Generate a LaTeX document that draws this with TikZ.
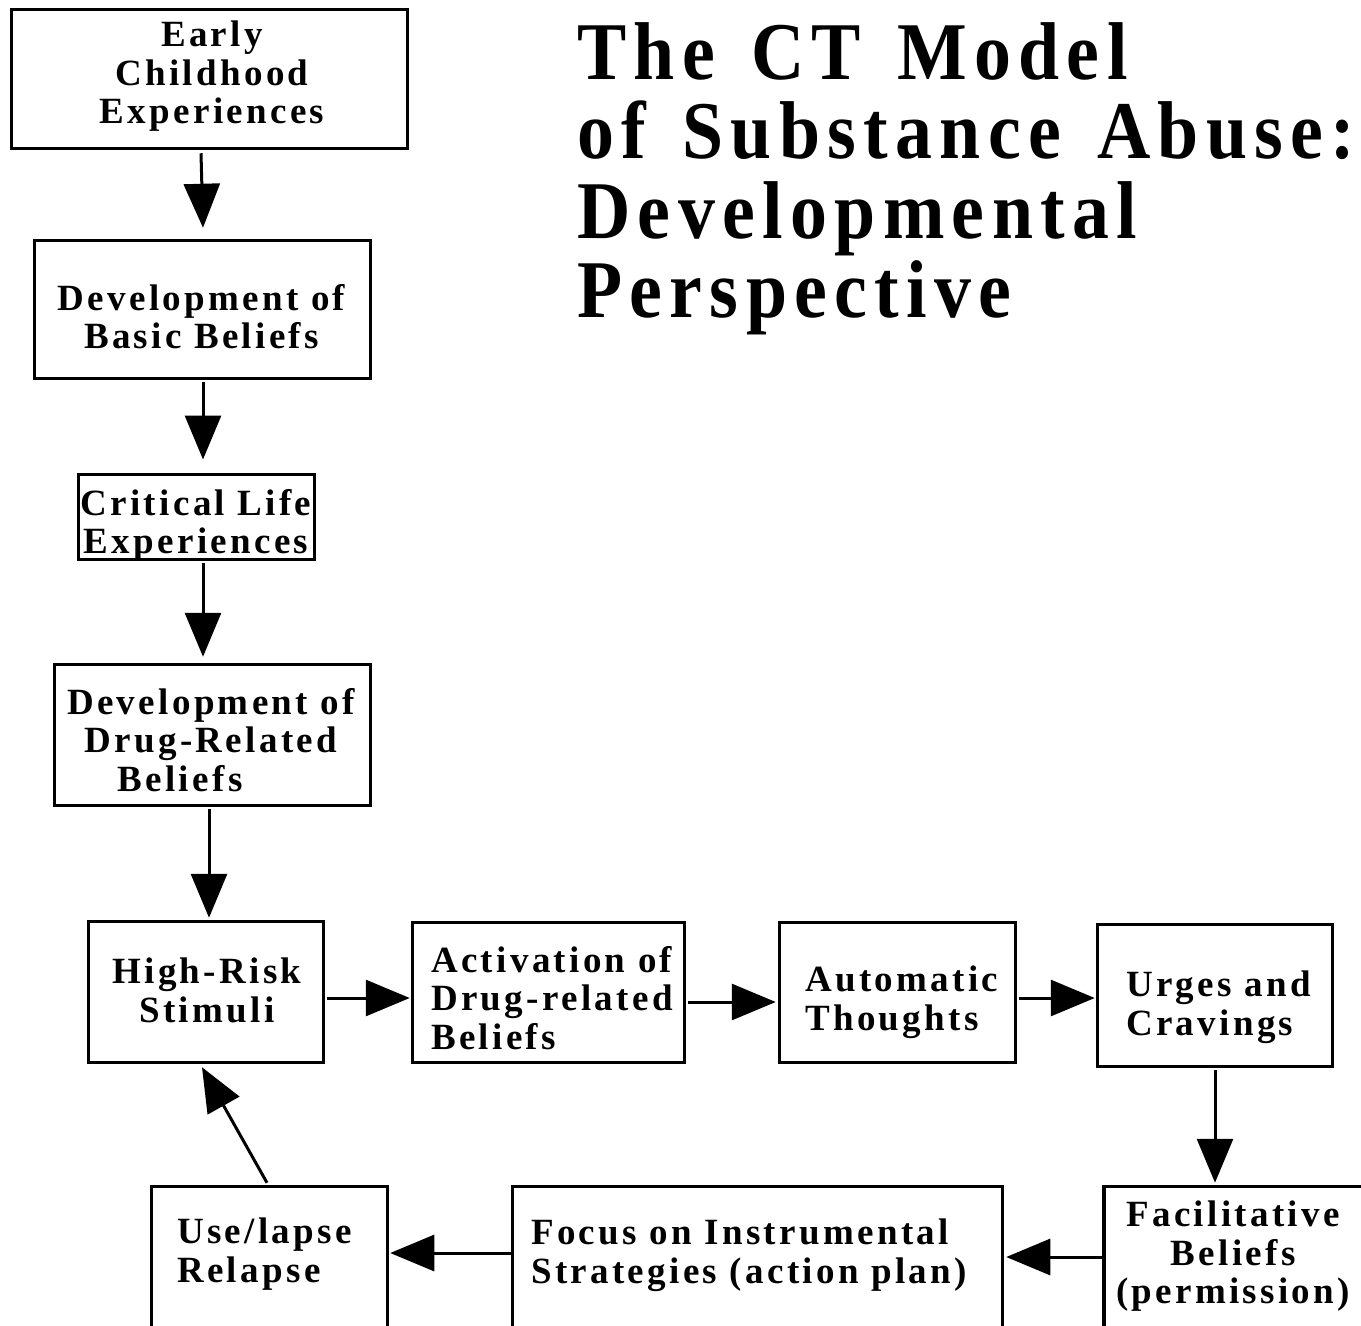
\documentclass[tikz,border=0pt]{standalone}
\usepackage{fontspec}
\usetikzlibrary{arrows.meta,calc}
\newfontfamily\boxfont{Liberation Serif}[LetterSpace=9]
\newfontfamily\titlefont{Liberation Serif}[LetterSpace=9,FakeStretch=0.9,WordSpace=1.4]
\tikzset{
  box/.style={draw=black,line width=3.5pt,fill=none,inner sep=0pt},
  boxtext/.style={inner sep=0pt,font=\boxfont\bfseries\fontsize{37}{38.5}\selectfont},
  arr/.style={line width=3pt,-{Triangle[length=44pt,width=36pt]}}
}
\begin{document}
\begin{tikzpicture}[x=1pt,y=-1pt]
\useasboundingbox (0,0) rectangle (1361,1326);
\fill[white] (0,0) rectangle (1361,1326);

% title
\node[anchor=north west,inner sep=0pt,align=left,
      font=\titlefont\bfseries\fontsize{82}{79.5}\selectfont] (title) at (577,22)
  {The CT Model\\of Substance Abuse:\\Developmental\\Perspective};

% boxes of the developmental chain
\node[box,minimum width=396pt,minimum height=139pt] (b1) at (209.5,79) {};
\node[box,minimum width=336pt,minimum height=138pt] (b2) at (202.5,309.5) {};
\node[box,line width=3pt,minimum width=236pt,minimum height=85pt] (b3) at (196,516.5) {};
\node[box,minimum width=316pt,minimum height=141pt] (b4) at (212.5,735) {};
\node[box,minimum width=235pt,minimum height=141pt] (b5) at (206,992) {};
\node[box,minimum width=272pt,minimum height=140pt] (b6) at (548.5,992.5) {};
\node[box,minimum width=236pt,minimum height=140pt] (b7) at (897.5,992.5) {};
\node[box,minimum width=235pt,minimum height=142pt] (b8) at (1215,995.5) {};
\node[box,minimum width=296pt,minimum height=173pt] (b9) at (1252,1273) {};
\node[box,minimum width=490pt,minimum height=173pt] (b10) at (757.5,1273) {};
\node[box,minimum width=236pt,minimum height=173pt] (b11) at (269.5,1273) {};

% box texts
\node[boxtext,anchor=north,align=center] (t1) at (212,21) {Early\\Childhood\\Experiences};
\node[boxtext,anchor=north,align=center] (t2) at (201.5,284) {Development of\\Basic Beliefs};
\node[boxtext,anchor=north,align=center] (t3) at (196,489) {Critical Life\\Experiences};
\node[boxtext,anchor=north,align=center] (t4) at (211,688) {Development of\\Drug-Related\\Beliefs\hspace*{62pt}};
\node[boxtext,anchor=north,align=center] (t5) at (207,958) {High-Risk\\Stimuli};
\node[boxtext,anchor=north west,align=left] (t6) at (431,946) {Activation of\\Drug-related\\Beliefs};
\node[boxtext,anchor=north west,align=left] (t7) at (805,966) {Automatic\\Thoughts};
\node[boxtext,anchor=north west,align=left] (t8) at (1126,971) {Urges and\\Cravings};
\node[boxtext,anchor=north,align=center] (t9) at (1233,1201) {Facilitative\\Beliefs\hspace*{20pt}\\(permission)};
\node[boxtext,anchor=north west,align=left] (t10) at (531,1219) {Focus on Instrumental\\Strategies (action plan)};
\node[boxtext,anchor=north west,align=left] (t11) at (177,1218) {Use/lapse\\Relapse};

% connectors
\draw[arr] ($(b1.south)+(-8.5,3)$) -- ($(b2.north)+(0.5,-11)$);
\draw[arr] ($(b2.south)+(0.5,2)$) -- ($(b3.north)+(7,-13)$);
\draw[arr] ($(b3.south)+(7,2)$) -- ($(b4.north)+(-9.5,-6)$);
\draw[arr] ($(b4.south)+(-3.5,2)$) -- ($(b5.north)+(3,-2)$);
\draw[arr] ($(b5.east)+(2,6)$) -- ($(b6.west)+(-1,5.5)$);
\draw[arr] ($(b6.east)+(2,9.5)$) -- ($(b7.west)+(-2,9.5)$);
\draw[arr] ($(b7.east)+(2,5.5)$) -- ($(b8.west)+(-1,2.5)$);
\draw[arr] ($(b8.south)+(0,2)$) -- ($(b9.north)+(-37,-2)$);
\draw[arr] ($(b9.west)+(0,-16)$) -- ($(b10.east)+(2,-16)$);
\draw[arr] ($(b10.west)+(0,-20)$) -- ($(b11.east)+(1,-20)$);
\draw[arr] ($(b11.north)+(-2.5,-2)$) -- ($(b5.south)+(-4,3)$);
\end{tikzpicture}
\end{document}
